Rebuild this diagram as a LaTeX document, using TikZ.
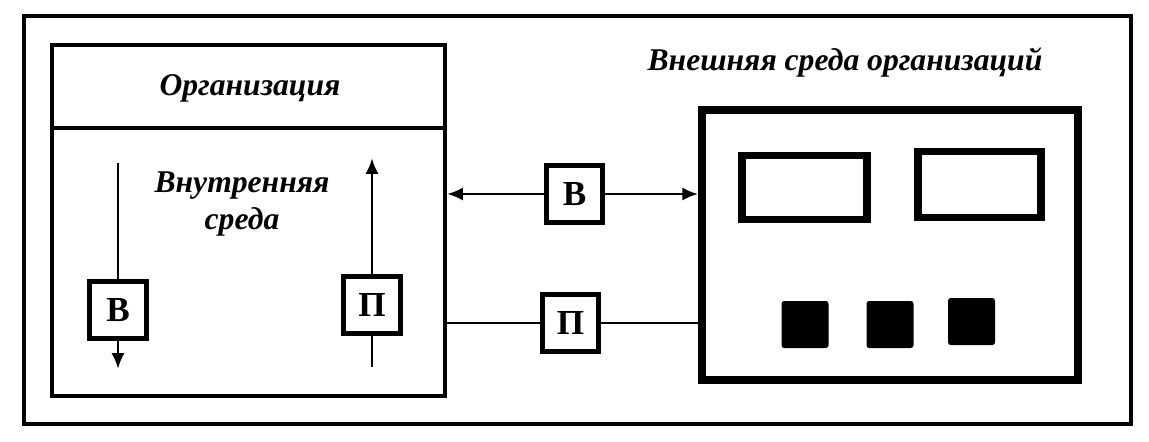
\documentclass[tikz,border=0pt]{standalone}
\usepackage{fontspec}
\setmainfont{Liberation Serif}
\usetikzlibrary{arrows.meta, positioning}

\begin{document}
\begin{tikzpicture}[x=0.02cm,y=-0.02cm,
    lbl/.style={font=\fontsize{18}{21}\selectfont\bfseries\itshape},
    letterbox/.style={draw,line width=2.6pt,minimum size=1.13cm,inner sep=0pt,font=\fontsize{20}{21}\selectfont\bfseries},
    conn/.style={line width=1.6pt},
    tip/.style={-{Latex[length=9pt,width=7.5pt]}}]
    \useasboundingbox (0,0) rectangle (1149,441);
    \draw[line width=2.6pt] (24,16) rectangle (1131,424);

    % the organization
    \node[draw,line width=2.4pt,minimum width=7.86cm,minimum height=7.02cm] (org) at (248.5,220.5) {};
    \draw[line width=2.4pt] (org.west |- 0,128) -- (org.east |- 0,128);
    \node[lbl] (orgname) at (250,88) {Организация};
    \node[lbl,align=center] (inner) at (242,204) {Внутренняя\\среда};
    \node[letterbox] (b1) at (118,310) {В};
    \node[letterbox] (p1) at (372,305) {П};
    \coordinate (b1top) at (118,163);
    \coordinate (b1end) at (118,369);
    \coordinate (p1top) at (372,158);
    \coordinate (p1bot) at (372,367);
    \draw[conn] (b1top) -- (b1.north);
    \draw[conn,tip] (b1.south) -- (b1end);
    \draw[conn,tip] (p1.north) -- (p1top);
    \draw[conn] (p1bot) -- (p1.south);

    % the environment
    \node[lbl] (envname) at (845,62) {Внешняя среда организаций};
    \node[draw,line width=4.4pt,minimum width=7.52cm,minimum height=5.4cm] (env) at (890,245) {};
    \node[draw,line width=4.2pt,minimum width=2.5cm,minimum height=1.27cm] (r1) at (804.5,187.5) {};
    \node[draw,line width=4.2pt,minimum width=2.46cm,minimum height=1.31cm] (r2) at (979.5,184.5) {};
    \foreach \x/\y [count=\i] in {805/324.5,890/324.5,971.5/321.5}
        \node[fill,rounded corners=1.5pt,minimum size=0.94cm,inner sep=0pt] (sq\i) at (\x,\y) {};

    % links between them
    \node[letterbox] (b2) at (574.5,194) {В};
    \node[letterbox] (p2) at (570.5,323) {П};
    \draw[conn,tip] (b2.west) -- (org.east |- b2);
    \draw[conn,tip] (b2.east) -- (env.west |- b2);
    \draw[conn] (org.east |- p2) -- (p2.west) (p2.east) -- (env.west |- p2);
\end{tikzpicture}
\end{document}
